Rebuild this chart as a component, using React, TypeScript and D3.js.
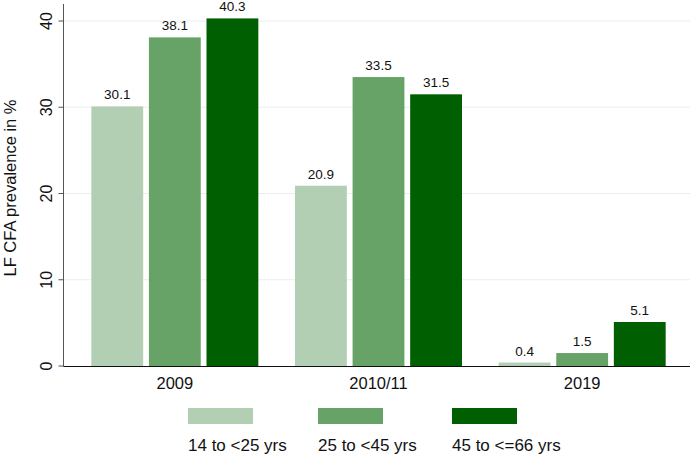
import React from "react";
import * as d3 from "d3";

const groups = ["2009", "2010/11", "2019"];
const series = ["14 to <25 yrs", "25 to <45 yrs", "45 to <=66 yrs"];
const values = [
  [30.1, 38.1, 40.3],
  [20.9, 33.5, 31.5],
  [0.4, 1.5, 5.1],
];
const colors = ["#b3cfb3", "#67a267", "#005f00"];
const yTicks = [0, 10, 20, 30, 40];

export default function App() {
  const W = 694, H = 455;
  const axisX = 63.5;
  const y = d3.scaleLinear().domain([0, 40]).range([366, 21]);
  const x0 = d3.scaleBand().domain(groups).range([73, 684]);
  const x1 = d3.scaleBand().domain(series).range([-83.5, 83.5]).paddingInner(0.1);
  const font = "Liberation Sans, Arial, sans-serif";
  const legendX = [188, 318, 452];
  return (
    <svg width={W} height={H} style={{ position: "absolute", left: 0, top: 0, background: "#fff" }} fontFamily={font}>
      {yTicks.filter(t => t > 0).map(t => (
        <line key={"g" + t} x1={axisX} x2={690} y1={y(t)} y2={y(t)} stroke="#e6eff1" strokeWidth={1} />
      ))}
      {groups.map((g, gi) => (
        <g key={g} transform={`translate(${x0(g)! + x0.bandwidth() / 2},0)`}>
          {series.map((s, si) => {
            const v = values[gi][si];
            return (
              <g key={s}>
                <rect x={x1(s)!} y={y(v)} width={x1.bandwidth()} height={y(0) - y(v)} fill={colors[si]} />
                <text x={x1(s)! + x1.bandwidth() / 2} y={y(v) - 7} textAnchor="middle" fontSize={13.5} fill="#111">
                  {v.toFixed(1)}
                </text>
              </g>
            );
          })}
          <text x={0} y={389} textAnchor="middle" fontSize={16.5} fill="#111">{g}</text>
        </g>
      ))}
      <line x1={axisX} x2={axisX} y1={4} y2={366.5} stroke="#555" strokeWidth={1} />
      <line x1={axisX} x2={690} y1={366.5} y2={366.5} stroke="#111" strokeWidth={1} />
      {yTicks.map(t => (
        <g key={t}>
          <line x1={axisX - 5} x2={axisX} y1={y(t)} y2={y(t)} stroke="#555" />
          <text transform={`translate(${52},${y(t)}) rotate(-90)`} textAnchor="middle" fontSize={16} fill="#111">{t}</text>
        </g>
      ))}
      <text transform={`translate(16,188) rotate(-90)`} textAnchor="middle" fontSize={16.5} fill="#111">LF CFA prevalence in %</text>
      {series.map((s, si) => (
        <g key={s}>
          <rect x={legendX[si]} y={408} width={65} height={16} fill={colors[si]} />
          <text x={legendX[si]} y={451} fontSize={17} fill="#111">{s}</text>
        </g>
      ))}
    </svg>
  );
}
